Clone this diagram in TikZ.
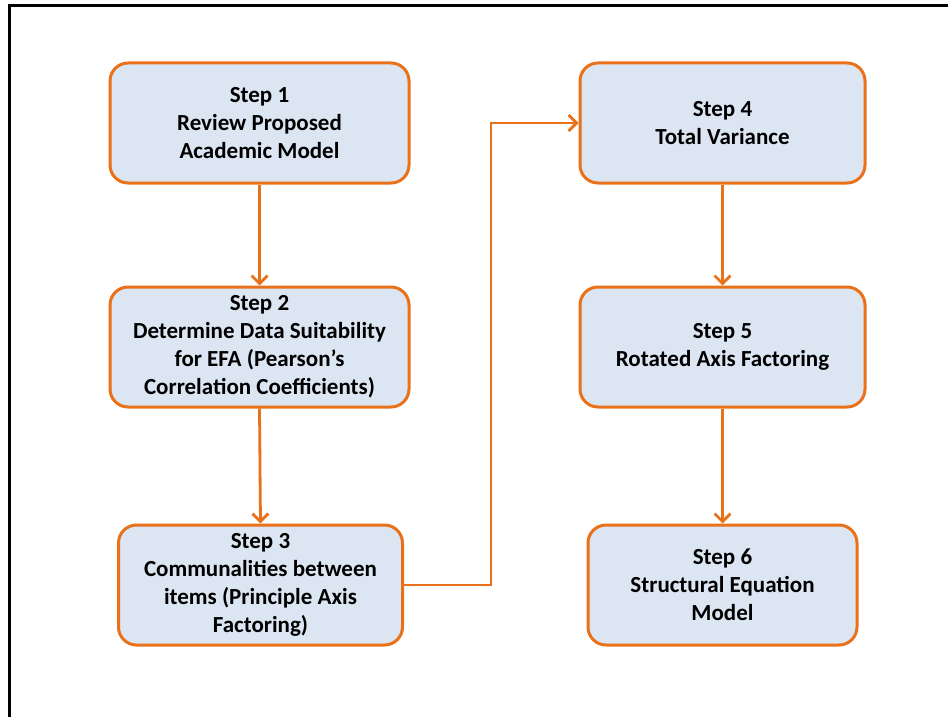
\documentclass[tikz,border=0pt]{standalone}
\usepackage{fontspec}
\setmainfont{Carlito}
\usetikzlibrary{arrows.meta,positioning}
\definecolor{flowor}{HTML}{E8711A}
\definecolor{flowbg}{HTML}{DCE6F2}
\begin{document}
\begin{tikzpicture}[x=1pt,y=-1pt,
  stepbox/.style={draw=flowor,line width=3pt,fill=flowbg,rounded corners=18pt,
    align=center,font=\bfseries\fontsize{23}{28}\selectfont,inner sep=0pt},
  flow/.style={draw=flowor,line width=2.8pt,-{Straight Barb[length=8pt,width=16pt,line width=2.8pt]}}]
\useasboundingbox (0,0) rectangle (948,717);
% outer frame, open at the bottom
\draw[line width=3pt] (9,717) -- (9,6) -- (948,6);
\node[stepbox,minimum width=299pt,minimum height=120pt] (s1) at (259.5,123)
  {Step 1\\Review Proposed\\Academic Model};
\node[stepbox,minimum width=299pt,minimum height=120pt] (s2) at (259.5,347)
  {Step 2\\Determine Data Suitability\\for EFA (Pearson’s\\Correlation Coefficients)};
\node[stepbox,minimum width=284pt,minimum height=120pt] (s3) at (260.5,585)
  {Step 3\\Communalities between\\items (Principle Axis\\Factoring)};
\node[stepbox,minimum width=285pt,minimum height=120pt] (s4) at (722.5,123)
  {Step 4\\Total Variance};
\node[stepbox,minimum width=285pt,minimum height=120pt] (s5) at (722.5,347)
  {Step 5\\Rotated Axis Factoring};
\node[stepbox,minimum width=269pt,minimum height=120pt] (s6) at (722.5,585)
  {Step 6\\Structural Equation\\Model};
\draw[flow] (s1.south) -- (s2.north);
\draw[flow] (s2.south) -- (s3.north);
\draw[flow] (s3.east) -- (491,585) |- (s4.west);
\draw[flow] (s4.south) -- (s5.north);
\draw[flow] (s5.south) -- (s6.north);
\end{tikzpicture}
\end{document}
